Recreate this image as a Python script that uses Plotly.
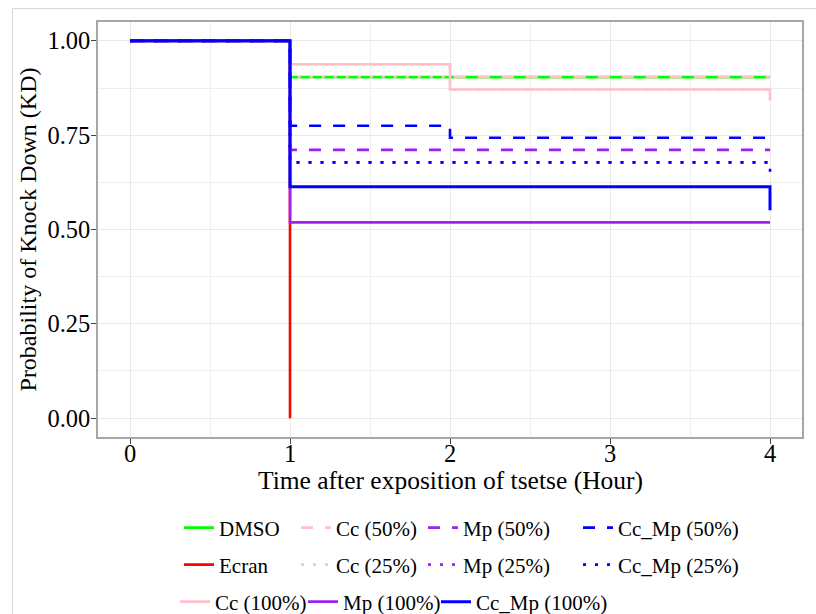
import plotly.graph_objects as go

# ---- data ----
names = ["DMSO", "Ecran", "Cc (100%)", "Cc (50%)", "Cc (25%)",
         "Mp (100%)", "Mp (50%)", "Mp (25%)",
         "Cc_Mp (100%)", "Cc_Mp (50%)", "Cc_Mp (25%)"]

t_dmso = [0, 1, 4];        s_dmso = [1.0, 0.904, 0.904]
t_ecran = [0, 1];          s_ecran = [1.0, 0.0]
t_cc100 = [0, 1, 2, 4];    s_cc100 = [1.0, 0.938, 0.871, 0.842]
t_cc50 = [0, 1, 2, 4];     s_cc50 = [1.0, 0.938, 0.904, 0.904]
t_cc25 = [0, 1, 2, 4];     s_cc25 = [1.0, 0.904, 0.871, 0.871]
t_mp100 = [0, 1, 4];       s_mp100 = [1.0, 0.519, 0.519]
t_mp50 = [0, 1, 4];        s_mp50 = [1.0, 0.711, 0.711]
t_mp25 = [0, 1, 4];        s_mp25 = [1.0, 0.678, 0.678]
t_ccmp100 = [0, 1, 4];     s_ccmp100 = [1.0, 0.613, 0.551]
t_ccmp50 = [0, 1, 2, 4];   s_ccmp50 = [1.0, 0.775, 0.743, 0.743]
t_ccmp25 = [0, 1, 4];      s_ccmp25 = [1.0, 0.678, 0.649]

x_ticks = [0, 1, 2, 3, 4]
y_ticks = [0.0, 0.25, 0.5, 0.75, 1.0]
y_tick_labels = ["0.00", "0.25", "0.50", "0.75", "1.00"]
x_title = "Time after exposition of tsetse (Hour)"
y_title = "Probability of Knock Down (KD)"

series_t = [t_dmso, t_ecran, t_cc100, t_cc50, t_cc25, t_mp100, t_mp50, t_mp25,
            t_ccmp100, t_ccmp50, t_ccmp25]
series_s = [s_dmso, s_ecran, s_cc100, s_cc50, s_cc25, s_mp100, s_mp50, s_mp25,
            s_ccmp100, s_ccmp50, s_ccmp25]

GREEN, RED, PINK, PURPLE, BLUE = "#00FF00", "#FF0000", "#FFC0CB", "#A020F0", "#0000FF"
colors = [GREEN, RED, PINK, PINK, PINK, PURPLE, PURPLE, PURPLE, BLUE, BLUE, BLUE]
DASH = "12px,12px"
DOT = "3px,9px"
dashes = ["solid", "solid", "solid", DASH, DOT, "solid", DASH, DOT, "solid", DASH, DOT]

# ---- layout geometry (pixels) ----
W, H = 816, 614
L, R, T, B = 98, 14, 22, 177
PW, PH = W - L - R, H - T - B

def px_x(px):
    return (px - L) / PW

def px_y(py):
    return (H - B - py) / PH

# legend entry placement (left edge px, row centre px), column-wise fill as in the reference
legend_left = [179, 179, 175, 296, 296, 303, 423, 423, 436, 578, 578]
row_mid = [528, 565, 602]
legend_row = [0, 1, 2, 0, 1, 2, 0, 1, 2, 0, 1]

SERIF = "Liberation Serif"

fig = go.Figure()
layout_legends = {}
for i, (nm, t, s, c, d) in enumerate(zip(names, series_t, series_s, colors, dashes)):
    lg = "legend" if i == 0 else f"legend{i+1}"
    fig.add_trace(go.Scatter(
        x=t, y=s, mode="lines", name=nm,
        line=dict(color=c, width=3 if (c == BLUE and d == "solid") else 2.6,
                  dash=d, shape="hv"),
        legend=lg, showlegend=True, hoverinfo="name+x+y"))
    layout_legends[lg] = dict(
        x=px_x(legend_left[i]), y=px_y(row_mid[legend_row[i]]),
        xanchor="left", yanchor="middle",
        font=dict(family=SERIF, size=21, color="black"),
        bgcolor="rgba(0,0,0,0)", borderwidth=0, itemwidth=30)

axis_common = dict(
    showgrid=True, gridcolor="#e9e9e9", gridwidth=1.3,
    showline=True, mirror=True, linecolor="#a6a6a6", linewidth=1.5,
    ticks="outside", ticklen=5, tickcolor="#444444", tickwidth=1,
    tickfont=dict(family=SERIF, size=24.5, color="black"),
    zeroline=False, automargin=False,
    minor=dict(showgrid=True, gridcolor="#eeeeee", gridwidth=1.1),
)

fig.update_layout(
    width=W, height=H,
    margin=dict(l=L, r=R, t=T, b=B, autoexpand=False),
    paper_bgcolor="white", plot_bgcolor="white",
    xaxis=dict(range=[-0.2, 4.2], tickvals=x_ticks, ticktext=[str(v) for v in x_ticks],
               ticklabelstandoff=-11, minor_dtick=0.5, **axis_common),
    yaxis=dict(range=[-0.05, 1.05], tickvals=y_ticks, ticktext=y_tick_labels,
               ticklabelstandoff=-4,
               title=dict(text=y_title, standoff=4,
                          font=dict(family=SERIF, size=24, color="black")),
               minor_dtick=0.125, **axis_common),
    annotations=[dict(text=x_title, xref="paper", yref="paper",
                      x=0.5, y=px_y(480), xanchor="center", yanchor="middle",
                      showarrow=False,
                      font=dict(family=SERIF, size=25.5, color="black"))],
    shapes=[dict(type="rect", xref="paper", yref="paper",
                 x0=px_x(12.5), x1=px_x(840), y0=px_y(640), y1=px_y(8.5),
                 line=dict(color="#d6d6d6", width=1), fillcolor="rgba(0,0,0,0)",
                 layer="below")],
    **layout_legends,
)

fig.write_html("out.html", config={"displayModeBar": False},
               post_script="document.body.style.margin='0';document.body.style.overflow='hidden';")
